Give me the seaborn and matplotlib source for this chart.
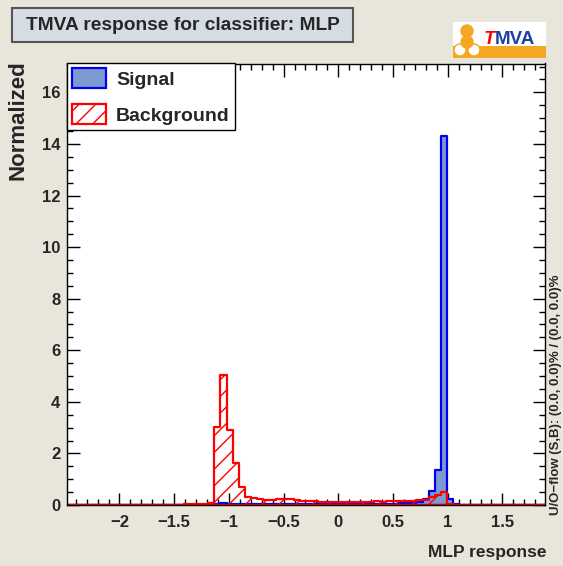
import numpy as np
import pandas as pd
import matplotlib
matplotlib.use("Agg")
import matplotlib.pyplot as plt
from matplotlib.patches import Rectangle, Ellipse, Patch
from matplotlib.ticker import MultipleLocator
import seaborn as sns

# histogram range / binning
x_min, x_max, n_bins = -2.477, 1.889, 78

# normalized bin contents (index 0 .. 77)
signal = [0.0] * 23 + [
    0.02, 0.05, 0.06, 0.05, 0.04, 0.03, 0.02, 0.02, 0.02, 0.02,   # 23-32
    0.02, 0.02, 0.02, 0.03, 0.02, 0.02, 0.03, 0.02, 0.03, 0.03,   # 33-42
    0.03, 0.03, 0.03, 0.04, 0.04, 0.04, 0.04, 0.05, 0.04, 0.05,   # 43-52
    0.05, 0.06, 0.07, 0.09, 0.13, 0.23, 0.54, 1.36, 14.31, 0.25,  # 53-62
    0.05] + [0.0] * 14
background = [0.0] * 19 + [
    0.02, 0.03, 0.03, 0.05, 0.09, 3.03, 5.05, 2.91, 1.62, 0.69,   # 19-28
    0.32, 0.26, 0.22, 0.20, 0.19, 0.22, 0.24, 0.22, 0.18, 0.16,   # 29-38
    0.15, 0.14, 0.13, 0.12, 0.11, 0.11, 0.12, 0.11, 0.12, 0.13,   # 39-48
    0.12, 0.14, 0.13, 0.15, 0.16, 0.15, 0.17, 0.16, 0.18, 0.21,   # 49-58
    0.30, 0.38, 0.49, 0.04] + [0.0] * 15

title = "TMVA response for classifier: MLP"
x_label = "MLP response"
y_label = "Normalized"
flow_text = "U/O\u2212flow (S,B): (0.0, 0.0)% / (0.0, 0.0)%"

edges = np.linspace(x_min, x_max, n_bins + 1)
centers = 0.5 * (edges[:-1] + edges[1:])
df_sig = pd.DataFrame({"x": centers, "w": signal})
df_bkg = pd.DataFrame({"x": centers, "w": background})

sns.set_style("ticks")
plt.rcParams["font.family"] = ["Liberation Sans", "DejaVu Sans"]
plt.rcParams["font.weight"] = "bold"
plt.rcParams["hatch.linewidth"] = 1.0

W, H = 563, 566
canvas = "#e8e6da"


def px(x, y):
    # pixel position (from top-left) -> figure fraction
    return x / W, 1 - y / H


fig = plt.figure(figsize=(W / 100, H / 100), dpi=100, facecolor=canvas)
ax = fig.add_axes([67.3 / W, 1 - 505 / H, (545 - 67.3) / W, (505 - 63.5) / H])
ax.set_facecolor("white")

sns.histplot(data=df_sig, x="x", weights="w", bins=list(edges), element="step", fill=True,
             color="#0000ee", facecolor="#7d99d1", edgecolor="#0000ee", linewidth=1.6,
             alpha=1, ax=ax)
sns.histplot(data=df_bkg, x="x", weights="w", bins=list(edges), element="step", fill=True,
             color="#ff0000", facecolor=(1, 1, 1, 0), edgecolor="#ff0000", linewidth=1.6,
             hatch="//", ax=ax)

ax.set_xlim(x_min, x_max)
ax.set_ylim(0, 17.12)
ax.set_xlabel("")
ax.set_ylabel("")
ax.xaxis.set_major_locator(MultipleLocator(0.5))
ax.xaxis.set_minor_locator(MultipleLocator(0.1))
ax.yaxis.set_major_locator(MultipleLocator(2))
ax.yaxis.set_minor_locator(MultipleLocator(0.5))
ax.tick_params(which="both", direction="in", top=True, right=True, width=1, color="black")
ax.tick_params(which="major", length=9, labelsize=12)
ax.tick_params(which="minor", length=4.5)
ax.tick_params(axis="x", pad=7)
ax.tick_params(axis="y", pad=5)
ax.xaxis.set_major_formatter(plt.FuncFormatter(lambda v, p: f"{v:g}".replace("-", "\u2212")))
for s in ax.spines.values():
    s.set_linewidth(1)
    s.set_color("black")

# legend
handles = [Patch(facecolor="#7d99d1", edgecolor="#0000ee", linewidth=1.6, label="Signal"),
           Patch(facecolor="none", edgecolor="#ff0000", linewidth=1.6, hatch="//", label="Background")]
leg = ax.legend(handles=handles, loc="upper left", bbox_to_anchor=(0, 1), borderaxespad=0,
                fontsize=14, fancybox=False, framealpha=1, edgecolor="black",
                handlelength=1.75, handleheight=1.2, handletextpad=0.5,
                borderpad=0.25, labelspacing=0.8)
leg.get_frame().set_linewidth(1)

# title box
bx, by = px(12, 42)
fig.patches.append(Rectangle((bx, by), 341 / W, 34 / H, transform=fig.transFigure,
                             facecolor="#d5dce4", edgecolor="#555555", linewidth=1.5))
fig.text(*px(182.5, 25.5), title, ha="center", va="center", fontsize=13.8)

# small TMVA logo
lx, ly = px(453, 58)
fig.patches.append(Rectangle((lx, ly), 93 / W, 36 / H, transform=fig.transFigure,
                             facecolor="white", edgecolor="none"))
ox, oy = px(453, 58)
fig.patches.append(Rectangle((ox, oy), 93 / W, 12 / H, transform=fig.transFigure,
                             facecolor="#f5a623", edgecolor="none"))
for cx, cy, col in [(467, 31, "#f5a623"), (460, 50, "white"), (474, 50, "white"),
                    (467, 42, "#f5a623")]:
    fig.patches.append(Ellipse(px(cx, cy), 12 / W, 12 / H, transform=fig.transFigure,
                               facecolor=col, edgecolor="#f5a623", linewidth=1))
fig.text(*px(489, 40), "T", color="#ff0000", fontsize=13.5, style="italic",
         ha="center", va="center")
fig.text(*px(495, 40), "MVA", color="#1f3fa0", fontsize=13.5, ha="left", va="center")

fig.text(*px(18, 60), y_label, rotation=90, ha="center", va="top", fontsize=16)
fig.text(*px(546, 553), x_label, ha="right", va="center", fontsize=12.5)
fig.text(*px(556, 515), flow_text, rotation=90, ha="center", va="bottom", fontsize=9.5)

fig.savefig("out.png", dpi=100, facecolor=canvas)
